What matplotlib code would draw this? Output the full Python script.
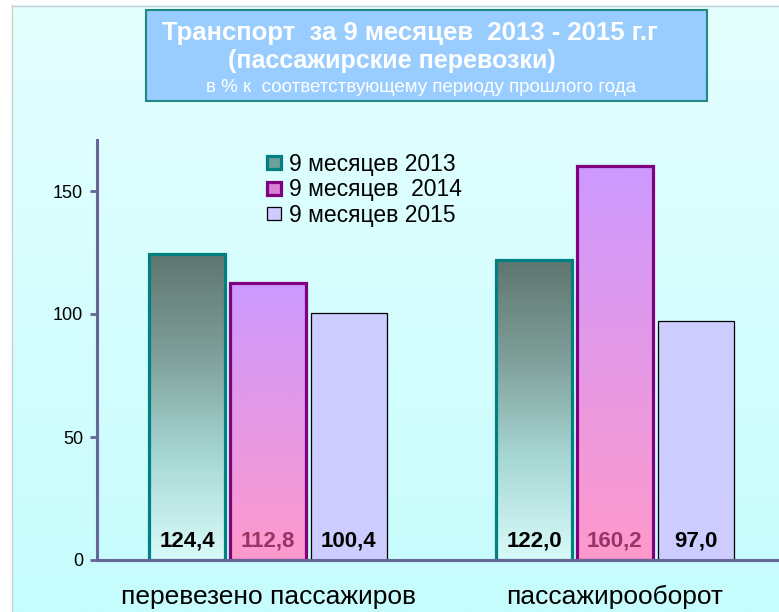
import numpy as np
import matplotlib
matplotlib.use("Agg")
import matplotlib.pyplot as plt
from matplotlib.colors import LinearSegmentedColormap
from matplotlib.patches import Rectangle

plt.rcParams['font.family'] = ['Liberation Sans', 'DejaVu Sans']

categories = ["перевезено пассажиров", "пассажирооборот"]
series_names = ["9 месяцев 2013", "9 месяцев  2014", "9 месяцев 2015"]
values_2013 = [124.4, 122.0]
values_2014 = [112.8, 160.2]
values_2015 = [100.4, 97.0]
yticks = [0, 50, 100, 150]

title1 = "Транспорт  за 9 месяцев  2013 - 2015 г.г"
title2 = "(пассажирские перевозки)"
title3 = "в % к  соответствующему периоду прошлого года"

W, H = 779, 612
fig = plt.figure(figsize=(W / 100, H / 100), dpi=100)

# background
bg = fig.add_axes([0, 0, 1, 1], zorder=-10)
bg.set_xlim(0, W)
bg.set_ylim(H, 0)
bg.axis('off')
grad = np.linspace(0, 1, 256).reshape(-1, 1)
bgcmap = LinearSegmentedColormap.from_list('bg', ['#e6ffff', '#c6fcfc'])
bg.imshow(grad, cmap=bgcmap, extent=[0, W, H, 0], aspect='auto')
bg.add_patch(Rectangle((0, 0), W, 5, facecolor='white', edgecolor='none'))
bg.add_patch(Rectangle((0, 0), 12, H, facecolor='white', edgecolor='none'))
bg.plot([12, W], [5.5, 5.5], color='#c8d0d0', lw=1)
bg.plot([12.5, 12.5], [5, H], color='#c8d0d0', lw=1)

# title box
bg.add_patch(Rectangle((146, 10), 561, 91, facecolor='#99ccff', edgecolor='#1f8a80', lw=1.5))
bg.text(410, 33, title1, color='white', fontsize=18.5, fontweight='bold', ha='center', va='center')
bg.text(392, 61, title2, color='white', fontsize=18, fontweight='bold', ha='center', va='center')
bg.text(421, 88, title3, color='white', fontsize=13.5, ha='center', va='center')

# main axes
x0, y_axis, y_top = 97, 560, 140
ax = fig.add_axes([x0 / W, (H - y_axis) / H, 1 - x0 / W, (y_axis - y_top) / H])
ax.patch.set_alpha(0)
ymax = (y_axis - y_top) / ((y_axis - 191) / 150.0)
ax.set_ylim(0, ymax)
ax.set_xlim(-0.493, 1.473)

x = np.arange(len(categories))
off = 0.233
bw = 0.219
b1 = ax.bar(x - off, values_2013, bw, facecolor='#6f9f9a', edgecolor='#008080', lw=2.3, zorder=3, label=series_names[0])
b2 = ax.bar(x, values_2014, bw, facecolor='#d980d9', edgecolor='#800080', lw=2.3, zorder=3, label=series_names[1])
b3 = ax.bar(x + off, values_2015, bw, facecolor='#ccccff', edgecolor='#000000', lw=0.9, zorder=3, label=series_names[2])

leg = fig.legend(handles=[b1, b2, b3], loc='upper left', bbox_to_anchor=(267 / W, 1 - 153 / H),
                 frameon=False, fontsize=16.5, handlelength=0.6, handleheight=0.5,
                 handletextpad=0.35, labelspacing=0.1, borderpad=0, borderaxespad=0)

cm1 = LinearSegmentedColormap.from_list('c1', ['#d8fbf8', '#a8d8d4', '#7f9f9a', '#5f756f'])
cm2 = LinearSegmentedColormap.from_list('c2', ['#ff99cc', '#cc99ff'])
for cont, cm in [(b1, cm1), (b2, cm2)]:
    for p in cont.patches:
        bx, by = p.get_x(), p.get_y()
        bwid, bh = p.get_width(), p.get_height()
        im = ax.imshow(grad, cmap=cm, origin='lower', extent=[bx, bx + bwid, by, by + bh],
                       aspect='auto', zorder=2, interpolation='bicubic')
        im.set_clip_path(p)
        p.set_facecolor('none')
ax.set_xlim(-0.493, 1.473)
ax.set_ylim(0, ymax)

def fmt(v):
    return f"{v:.1f}".replace('.', ',')

for cont, vals, col in [(b1, values_2013, 'black'), (b2, values_2014, '#993366'), (b3, values_2015, 'black')]:
    for p, v in zip(cont.patches, vals):
        ax.annotate(fmt(v), (p.get_x() + p.get_width() / 2, 0), xytext=(0, 8),
                    textcoords='offset pixels', ha='center', va='bottom',
                    fontsize=16, fontweight='bold', color=col, zorder=5)

spc = '#666699'
for s in ['top', 'right']:
    ax.spines[s].set_visible(False)
ax.spines['left'].set_color(spc)
ax.spines['left'].set_linewidth(2.2)
ax.spines['bottom'].set_color(spc)
ax.spines['bottom'].set_linewidth(2.2)
ax.spines['bottom'].set_zorder(6)
ax.set_yticks(yticks)
ax.set_yticklabels([str(t) for t in yticks])
ax.tick_params(axis='y', length=5, width=2, color=spc, labelsize=13, pad=5)
ax.set_xticks(x)
ax.set_xticklabels(categories)
ax.tick_params(axis='x', length=0, labelsize=19, pad=18)

fig.savefig('out.png', dpi=100)
